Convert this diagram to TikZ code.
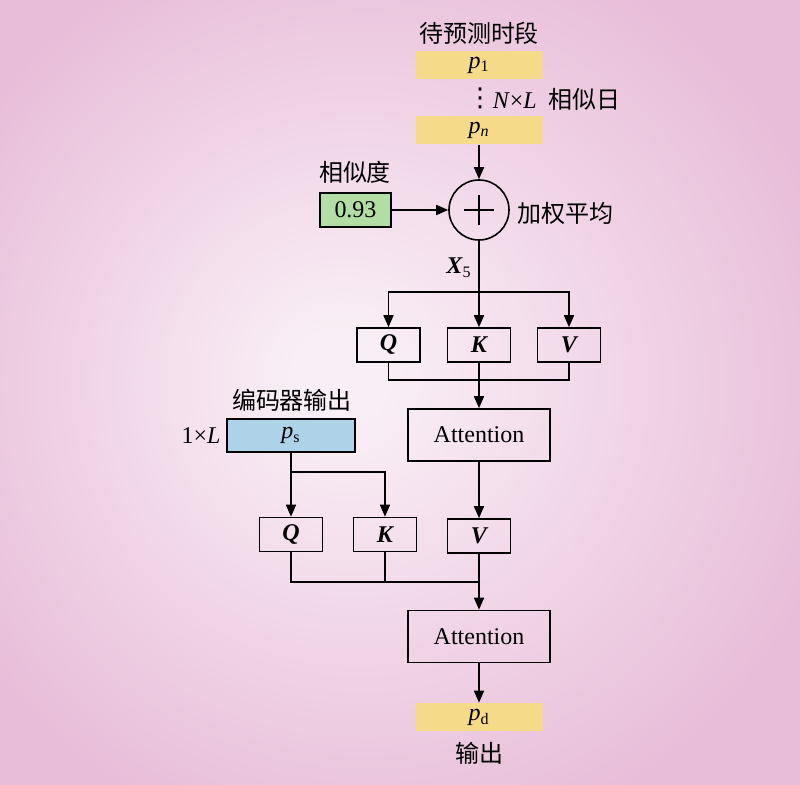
\documentclass[tikz,border=0pt]{standalone}
\usepackage{fontspec}
\setmainfont{Liberation Serif}
\newfontfamily\cjk{Noto Sans CJK SC}
\newfontfamily\symfont{DejaVu Sans}
\usepackage{tikz}
\usetikzlibrary{arrows.meta}
\definecolor{bgcenter}{RGB}{249, 238, 245}
\definecolor{bgedge}{RGB}{232, 189, 217}
\definecolor{slotyellow}{RGB}{245, 218, 138}
\definecolor{simgreen}{RGB}{178, 222, 165}
\definecolor{encblue}{RGB}{174, 211, 233}
\pgfdeclareradialshading{bgglow}{\pgfpoint{-4bp}{1bp}}{color(0bp)=(bgcenter); color(3bp)=(bgcenter); color(30bp)=(bgedge); color(50bp)=(bgedge)}

\begin{document}
\begin{tikzpicture}[x=0.5pt, y=-0.5pt, font=\fontsize{12}{14}\selectfont, line width=0.8pt,
    arr/.style={-{Triangle[length=6pt, width=5pt]}},
    slot/.style={fill=slotyellow, minimum width=63.5pt, minimum height=14pt, inner sep=0pt},
    qkv/.style={draw, minimum width=31.5pt, minimum height=17pt, inner sep=0pt, font=\fontsize{12}{14}\selectfont\bfseries\itshape},
    attn/.style={draw, minimum width=71pt, minimum height=26pt, inner sep=0pt}]
    \shade[shading=bgglow] (0,0) rectangle (800,785);
    \useasboundingbox (0,0) rectangle (800,785);

    \node at (479,33) {\cjk 待预测时段};
    \node[slot] (p1) at (479,65) {\textit{p}\textsubscript{1}};
    \node[inner sep=0pt] (dots) at (480,98) {\symfont\fontsize{13}{14}\selectfont ⋮};
    \node[anchor=west, inner sep=0pt] (days) at (492,99) {\textit{N}×\textit{L}\hspace{6pt}{\cjk 相似日}};
    \node[slot] (pn) at (479,130) {\textit{p}\textsubscript{\textit{n}}};

    \node[circle, draw, minimum size=30pt, inner sep=0pt] (sum) at (479,210) {};
    \draw ([xshift=-7.5pt]sum.center) -- ([xshift=7.5pt]sum.center);
    \draw ([yshift=-7.5pt]sum.center) -- ([yshift=7.5pt]sum.center);
    \node[anchor=west] at (510,213) {\cjk 加权平均};
    \node at (355,172) {\cjk 相似度};
    \node[draw, fill=simgreen, minimum width=35.5pt, minimum height=17pt, inner sep=0pt] (sim) at (355.5,210) {0.93};
    \node at (459,268) {\textbf{\textit{X}}\textsubscript{5}};

    \node[qkv] (q1) at (388.5,345) {Q};
    \node[qkv] (k1) at (479,345) {K};
    \node[qkv] (v1) at (569,345) {V};
    \node[attn] (att1) at (479,435) {Attention};

    \node at (292,400) {\cjk 编码器输出};
    \node[anchor=east] at (228,436) {1×\textit{L}};
    \node[draw, fill=encblue, minimum width=64pt, minimum height=16.5pt, inner sep=0pt] (ps) at (291,435.5) {\textit{p}\textsubscript{s}};

    \node[qkv] (q2) at (291,534.5) {Q};
    \node[qkv] (k2) at (385,534.5) {K};
    \node[qkv] (v2) at (479,536) {V};
    \node[attn] (att2) at (479,636.5) {Attention};
    \node[slot] (pd) at (479,717.5) {\textit{p}\textsubscript{d}};
    \node at (479,753) {\cjk 输出};

    \draw[arr] (pn) -- (sum);
    \draw[arr] (sim) -- (sum);
    \coordinate (fork1) at (479,292);
    \draw[arr] (sum) -- (k1);
    \draw[arr] (fork1) -| (q1);
    \draw[arr] (fork1) -| (v1);
    \coordinate (join1) at (479,380);
    \draw (q1) |- (join1) -| (v1);
    \draw[arr] (k1) -- (att1);

    \coordinate (fork2) at (291,472);
    \draw[arr] (ps) -- (q2);
    \draw[arr] (fork2) -| (k2);
    \draw[arr] (att1) -- (v2);
    \coordinate (join2) at (479,582);
    \draw (q2) |- (join2);
    \draw (k2) |- (join2);
    \draw[arr] (v2) -- (att2);
    \draw[arr] (att2) -- (pd);
\end{tikzpicture}
\end{document}
